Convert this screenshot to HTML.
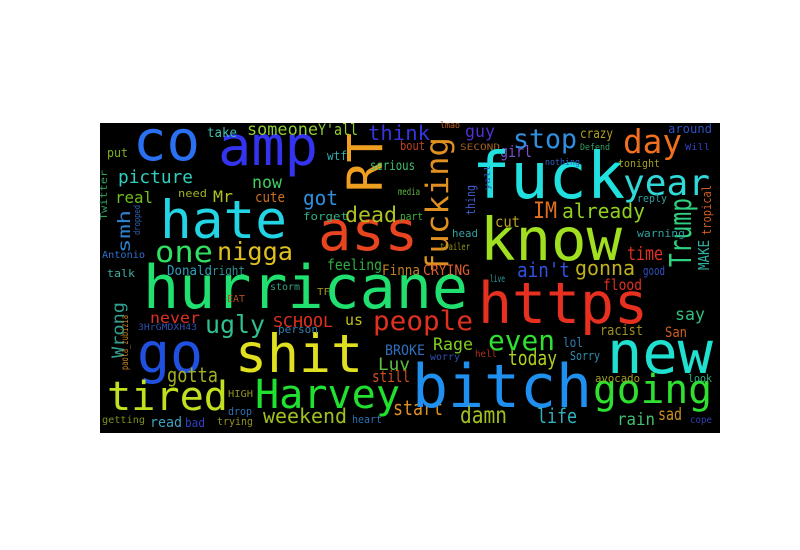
<!DOCTYPE html>
<html><head><meta charset="utf-8"><style>
html,body{margin:0;padding:0;background:#fff;width:800px;height:550px;overflow:hidden}
svg{position:absolute;left:0;top:0}
text{font-family:"DejaVu Sans Mono","Liberation Mono",monospace}
</style></head><body>
<svg id="cloud" width="800" height="550">
<rect x="100" y="123" width="620" height="310" fill="#000"/>
<g id="words"></g>
</svg>
<script>
// word, left x, baseline y (or bottom y for vertical), rendered length, font size, color, vertical
const words=["co","amp","RT","hate","ass","someone","Y'all","think","take","picture","put","wtf","serious","now","got","real","need","Mr","cute","dead","forget","Twitter","smh","dropped","one","nigga","Antonio","talk","Donald","right","feeling","Finna","bout","media","part",
"fucking","guy","lmao","stop","crazy","day","around","SECOND","girl","Defend","fuck","year","tonight","Will","thing","yall","IM","already","reply","tropical","Trump","MAKE","cut","head","know","warning","time","CRYING","ain't","gonna","good",
"hurricane","Wrong","never","ugly","SCHOOL","us","people","go","3HrGMDXH43","paola_zubizia","shit","person","storm","TF","EAT","BROKE","Luv","still","gotta","tired","Harvey","HIGH","drop","trying","weekend","read","bad","getting","heart","start",
"https","new","flood","live","say","racist","San","even","Rage","lol","today","Sorry","bitch","going","avocado","look","damn","life","rain","sad","hell","worry","cope","trailer","nothing"];
const xs=[133,218,382,160,318,247,318,368,207,118,107,327,370,252,303,115,178,213,255,345,303,107,130,140,155,217,102,107,167,212,327,382,400,398,400,
448,465,440,513,580,623,668,460,500,580,472,623,618,685,475,490,533,562,637,711,691,709,495,452,480,637,627,423,517,575,643,
143,124,150,205,273,345,373,137,138,128,235,278,270,317,227,385,378,372,167,107,255,228,228,217,263,150,185,102,352,393,
478,607,603,490,675,600,665,488,433,563,508,570,412,593,595,688,460,537,617,658,475,430,690,440,545];
const ys=[160,165,192,238,250,135,135,140,137,183,157,160,170,188,205,203,197,202,202,222,220,220,253,235,262,260,258,277,275,275,270,275,150,195,220,
273,137,128,148,138,153,133,150,157,150,198,195,167,150,215,190,218,218,202,235,267,270,227,237,260,237,260,275,277,275,275,
308,358,323,333,327,325,330,372,330,370,372,333,290,295,302,355,370,382,382,410,408,397,415,425,423,427,427,423,423,415,
323,373,290,282,320,335,337,350,350,347,365,360,407,403,382,382,423,423,425,420,357,360,423,250,165];
const lens=[67,100,59,127,100,71,40,62,30,75,21,20,45,30,35,38,29,20,30,52,45,50,43,30,58,76,43,28,45,33,55,38,25,22,23,
136,30,20,64,33,59,44,40,32,30,153,87,42,25,30,25,24,83,30,50,69,30,25,26,142,48,36,47,53,60,22,
325,56,50,60,60,18,100,66,59,55,128,40,30,13,18,40,32,38,51,121,145,25,24,36,84,32,20,43,30,50,
170,106,39,15,30,43,22,67,40,20,49,30,180,119,45,24,47,40,38,24,22,30,22,30,35];
const sizes=[56,55,48,53,55,17,16,20,13,18,12,12,13,17,20,16,11,16,14,21,11,10,17,9,29,25,10,11,13,12,15,14,12,10,11,
31,17,9,27,13,33,12,9,16,9,64,36,11,9,12,8,22,20,11,12,30,15,15,11,59,11,19,14,20,20,12,
60,17,15,25,15,15,27,55,9,10,53,11,10,10,10,14,17,16,20,40,40,10,11,11,20,14,12,10,11,20,
57,59,15,10,17,14,14,28,17,13,20,12,60,40,11,11,23,20,17,17,10,10,10,10,9];
const colors=["#2a70f0","#3333f0","#f0a020","#22d4e4","#e84420","#90d030","#90d030","#3535e0","#40c0b0","#30d0c0","#80b020","#30b0b0","#40c070","#40d060","#3090e0","#70c020","#a0b020","#b0c020","#d07020","#b0c020","#30b080","#30a060","#3080d0","#3060b0","#30e060","#e0c020","#3070d0","#40b0a0","#30a0c0","#309090","#30b040","#c08020","#c04020","#60b040","#40b040",
"#e09020","#5030d0","#c06020","#3090e0","#b0a020","#f07020","#3050c0","#a06020","#8050d0","#30a060","#20e0e0","#30d8d8","#a0a020","#3040c0","#4060d0","#3050b0","#e07020","#90d020","#30a0a0","#d06020","#30d080","#30b0a0","#c0a020","#30a0a0","#a0e020","#30a0a0","#e03020","#e06030","#3050e0","#c0b020","#3050c0",
"#20e070","#30a090","#e03020","#30c090","#e03020","#c0c020","#e03020","#2050e0","#3050b0","#c08020","#e0e020","#3080b0","#30a080","#a09020","#b05020","#3070c0","#60c040","#d05020","#a0b020","#c0e020","#20e030","#909020","#3070b0","#909020","#a0c020","#40a0c0","#3040c0","#809020","#3070b0","#e09020",
"#e83020","#20e0d0","#e03020","#30a0a0","#30c080","#a09020","#d06020","#30e030","#80d020","#3080b0","#b0d020","#3090b0","#2090f0","#30e030","#a0a020","#30b080","#a0c020","#30b0c0","#40c070","#d09020","#b03020","#3050b0","#3040b0","#909020","#3060c0"];
const vertical=[0,0,1,0,0,0,0,0,0,0,0,0,0,0,0,0,0,0,0,0,0,1,1,1,0,0,0,0,0,0,0,0,0,0,0,
1,0,0,0,0,0,0,0,0,0,0,0,0,0,1,1,0,0,0,1,1,1,0,0,0,0,0,0,0,0,0,
0,1,0,0,0,0,0,0,0,1,0,0,0,0,0,0,0,0,0,0,0,0,0,0,0,0,0,0,0,0,
0,0,0,0,0,0,0,0,0,0,0,0,0,0,0,0,0,0,0,0,0,0,0,0,0];
const g=document.getElementById('words');
const NS='http://www.w3.org/2000/svg';
for(let i=0;i<words.length;i++){
  const t=document.createElementNS(NS,'text');
  
  
  t.setAttribute('x',xs[i]);
  t.setAttribute('y',ys[i]);
  t.setAttribute('font-size',sizes[i]);
  t.setAttribute('fill',colors[i]);
  t.setAttribute('textLength',lens[i]);
  t.setAttribute('lengthAdjust','spacingAndGlyphs');
  if(vertical[i]) t.setAttribute('transform','rotate(-90 '+xs[i]+' '+ys[i]+')');
  t.textContent=words[i];
  g.appendChild(t);
}
</script>
</body></html>
